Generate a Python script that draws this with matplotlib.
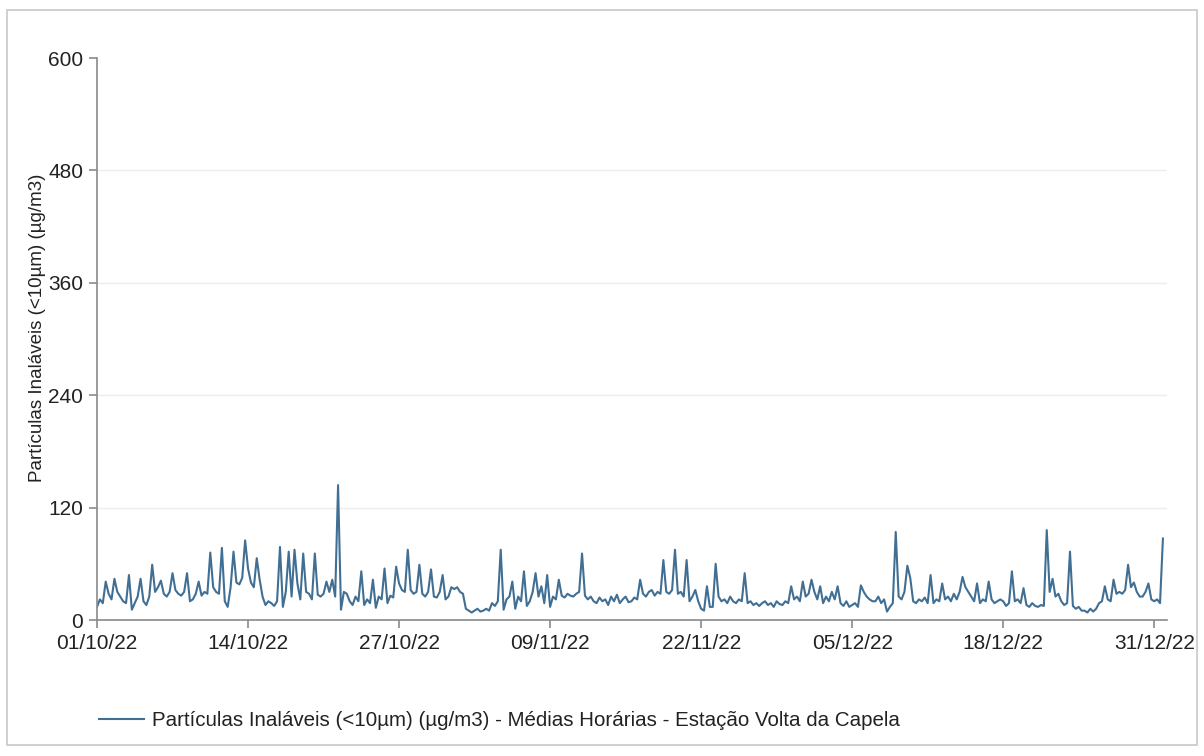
import matplotlib
matplotlib.use("Agg")
import matplotlib.pyplot as plt
import matplotlib.dates as mdates
import pandas as pd
from matplotlib.patches import Rectangle

# 6-hourly readings (00h, 06h, 12h, 18h), ug/m3
oct_values = [
    14, 22, 18, 41,  28, 22, 44, 30,  25, 20, 18, 48,  11, 18, 25, 44,
    20, 16, 25, 59,  30, 35, 42, 28,  25, 30, 50, 32,  28, 26, 30, 50,
    20, 22, 28, 41,  26, 30, 28, 72,  35, 30, 28, 77,  20, 14, 35, 73,
    40, 38, 45, 85,  55, 40, 35, 66,  43, 25, 16, 20,  18, 15, 20, 78,
    14, 30, 73, 25,  75, 39, 22, 71,  30, 28, 22, 71,  27, 25, 28, 41,
    30, 43, 25, 144, 11, 30, 28, 20,  16, 25, 20, 52,  16, 22, 18, 43,
    13, 25, 22, 55,  18, 26, 24, 57,  39, 32, 30, 75,  32, 28, 30, 59,
    28, 25, 30, 54,  25, 24, 30, 48,  22, 25, 35, 33,
]
nov_values = [
    35, 30, 28, 12,  10, 8, 10, 12,   9, 10, 12, 10,   18, 15, 20, 75,
    11, 22, 25, 41,  12, 25, 20, 52,  15, 20, 30, 50,  25, 36, 18, 48,
    14, 25, 22, 43,  26, 24, 28, 26,  25, 28, 30, 71,  26, 22, 25, 20,
    18, 24, 20, 22,  16, 25, 20, 27,  18, 22, 25, 19,  20, 24, 22, 43,
    28, 25, 30, 32,  26, 30, 28, 64,  30, 28, 32, 75,  28, 30, 25, 64,
    20, 25, 32, 20,  12, 10, 36, 14,  14, 60, 25, 20,  22, 18, 25, 20,
    18, 22, 20, 50,  18, 20, 16, 18,  15, 18, 20, 16,  18, 14, 20, 17,
    16, 20, 18, 36,  22, 25, 20, 41,
]
dec_values = [
    25, 28, 43, 30,  22, 36, 18, 25,  20, 30, 22, 36,  18, 15, 20, 14,
    16, 18, 14, 37,  30, 25, 22, 20,  20, 25, 18, 22,  9, 14, 18, 94,
    25, 22, 30, 58,  45, 20, 18, 22,  20, 24, 18, 48,  18, 22, 20, 39,
    22, 25, 20, 28,  22, 30, 46, 35,  30, 25, 20, 39,  18, 22, 20, 41,
    22, 18, 20, 22,  20, 15, 18, 52,  20, 22, 18, 34,  16, 14, 18, 15,
    14, 16, 15, 96,  30, 44, 25, 28,  20, 16, 18, 73,  15, 12, 14, 10,
    10, 8, 12, 9,    12, 18, 20, 36,  22, 20, 43, 28,  30, 28, 32, 59,
    35, 40, 30, 25,  25, 30, 39, 22,  20, 22, 18, 87,
]

x_tick_labels = ["01/10/22", "14/10/22", "27/10/22", "09/11/22",
                 "22/11/22", "05/12/22", "18/12/22", "31/12/22"]
y_ticks = [0, 120, 240, 360, 480, 600]
series_label = "Partículas Inaláveis (<10µm) (µg/m3) - Médias Horárias - Estação Volta da Capela"
y_label = "Partículas Inaláveis (<10µm) (µg/m3)"

values = oct_values + nov_values + dec_values
times = pd.date_range("2022-10-01", periods=len(values), freq="6h")
tick_dates = [pd.to_datetime(t, format="%d/%m/%y") for t in x_tick_labels]

plt.rcParams["font.family"] = ["Liberation Sans", "DejaVu Sans"]

fig = plt.figure(figsize=(12.04, 7.56), dpi=100)
fig.patches.append(Rectangle((7 / 1204, 1 - 745 / 756), 1190 / 1204, 735 / 756,
                             transform=fig.transFigure, fill=False,
                             edgecolor="#c8c8c8", linewidth=1.2))

ax = fig.add_axes([97 / 1204, 1 - 620 / 756, 1070 / 1204, 562 / 756])
line_color = "#416f93"
ax.plot(times, values, color=line_color, linewidth=1.5, label=series_label)

ax.set_ylim(0, 600)
ax.set_xlim(pd.Timestamp("2022-10-01"), pd.Timestamp("2022-10-01") + pd.Timedelta(days=92.1))
ax.set_yticks(y_ticks)
ax.set_xticks(tick_dates)
ax.xaxis.set_major_formatter(mdates.DateFormatter("%d/%m/%y"))

for v in y_ticks[1:-1]:
    ax.axhline(v, color="#ececec", linewidth=1.0, zorder=0)

for s in ["top", "right"]:
    ax.spines[s].set_visible(False)
for s in ["left", "bottom"]:
    ax.spines[s].set_color("#8a8a8a")
    ax.spines[s].set_linewidth(1.2)

ax.tick_params(axis="both", colors="#8a8a8a", labelcolor="#222222",
               labelsize=15, length=6, width=1.2, pad=4)
ax.set_ylabel(y_label, fontsize=13.5, color="#222222")
ax.yaxis.set_label_coords(-0.048, 0.52)

fig.legend(loc="upper left", bbox_to_anchor=(80 / 1204, 1 - 693 / 756),
           frameon=False, fontsize=14.8, handlelength=2.2, handletextpad=0.4,
           labelcolor="#222222")

fig.savefig("out.png", dpi=100)
